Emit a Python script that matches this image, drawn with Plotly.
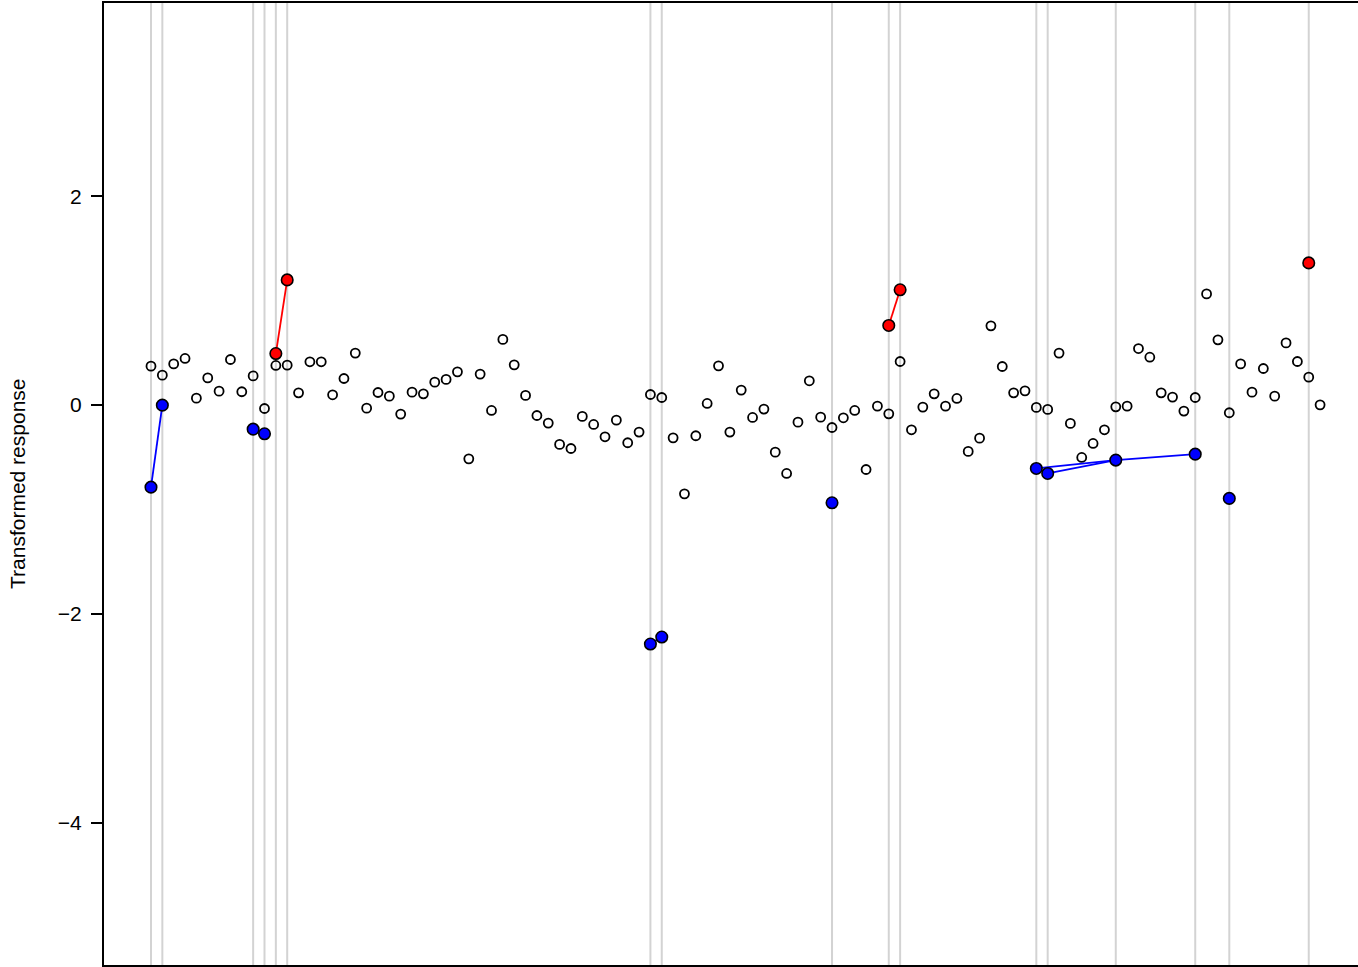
import plotly.graph_objects as go

# ---- data ----
index = list(range(1, 105))
response = [
    0.373, 0.287, 0.395, 0.447, 0.067, 0.261, 0.134, 0.437, 0.128, 0.280,
    -0.032, 0.380, 0.383, 0.118, 0.415, 0.415, 0.099, 0.255, 0.498, -0.029,
    0.121, 0.086, -0.086, 0.124, 0.108, 0.220, 0.246, 0.319, -0.514, 0.297,
    -0.051, 0.629, 0.386, 0.093, -0.099, -0.172, -0.376, -0.415, -0.108, -0.185,
    -0.303, -0.144, -0.360, -0.258, 0.102, 0.073, -0.313, -0.849, -0.293, 0.016,
    0.376, -0.258, 0.144, -0.118, -0.038, -0.450, -0.654, -0.163, 0.233, -0.115,
    -0.214, -0.121, -0.051, -0.616, -0.010, -0.083, 0.418, -0.236, -0.019, 0.108,
    -0.010, 0.064, -0.443, -0.316, 0.759, 0.370, 0.118, 0.137, -0.022, -0.041,
    0.498, -0.175, -0.501, -0.367, -0.236, -0.016, -0.010, 0.542, 0.459, 0.118,
    0.077, -0.057, 0.073, 1.065, 0.625, -0.073, 0.395, 0.124, 0.351, 0.086,
    0.596, 0.418, 0.268, 0.003,
]

blue_idx = [1, 2, 10, 11, 45, 46, 61, 79, 80, 86, 93, 96]
blue_val = [-0.785, 0.0, -0.230, -0.274, -2.287, -2.220, -0.935, -0.606, -0.654, -0.526, -0.469, -0.893]
red_idx = [12, 13, 66, 67, 103]
red_val = [0.494, 1.199, 0.763, 1.104, 1.362]

blue_groups = [[1, 2], [10, 11], [45, 46], [79, 86, 93], [80, 86]]
red_groups = [[12, 13], [66, 67]]

y_ticks = [-4, -2, 0, 2]
y_title = "Transformed response"

# ---- figure ----
flagged = sorted(blue_idx + red_idx)
fig = go.Figure()

shapes = []
for fx in flagged:
    shapes.append(dict(type="line", xref="x", yref="paper", x0=fx, x1=fx, y0=0, y1=1,
                       line=dict(color="#d3d3d3", width=2), layer="below"))


def group_xy(groups, idx, val):
    lut = dict(zip(idx, val))
    xs, ys = [], []
    for g in groups:
        for i in g:
            xs.append(i)
            ys.append(lut[i])
        xs.append(None)
        ys.append(None)
    return xs, ys


bx, by = group_xy(blue_groups, blue_idx, blue_val)
rx, ry = group_xy(red_groups, red_idx, red_val)

fig.add_trace(go.Scatter(x=index, y=response, mode="markers",
                         marker=dict(symbol="circle", size=9, color="rgba(0,0,0,0)",
                                     line=dict(color="black", width=1.8)),
                         showlegend=False, hoverinfo="skip"))
fig.add_trace(go.Scatter(x=bx, y=by, mode="lines", line=dict(color="#0000ff", width=1.8),
                         showlegend=False, hoverinfo="skip"))
fig.add_trace(go.Scatter(x=rx, y=ry, mode="lines", line=dict(color="#ff0000", width=1.8),
                         showlegend=False, hoverinfo="skip"))
fig.add_trace(go.Scatter(x=blue_idx, y=blue_val, mode="markers",
                         marker=dict(symbol="circle", size=11.5, color="#0000ff",
                                     line=dict(color="black", width=1.6)),
                         showlegend=False, hoverinfo="skip"))
fig.add_trace(go.Scatter(x=red_idx, y=red_val, mode="markers",
                         marker=dict(symbol="circle", size=11.5, color="#ff0000",
                                     line=dict(color="black", width=1.6)),
                         showlegend=False, hoverinfo="skip"))

fig.update_layout(
    width=1358, height=967,
    margin=dict(l=104, r=0, t=3, b=2),
    plot_bgcolor="white", paper_bgcolor="white",
    font=dict(family="Liberation Sans, Arial, sans-serif", size=21, color="black"),
    shapes=shapes,
    xaxis=dict(range=[-3.14, 107.34], showgrid=False, zeroline=False,
               showline=True, linecolor="black", linewidth=2, mirror=True,
               ticks="", showticklabels=False, automargin=False),
    yaxis=dict(range=[-5.36, 3.85], showgrid=False, zeroline=False,
               showline=True, linecolor="black", linewidth=2, mirror=False,
               ticks="outside", ticklen=11, tickwidth=1.5, tickcolor="black",
               tickvals=y_ticks, ticktext=[str(v).replace("-", "\u2212") for v in y_ticks],
               ticklabelstandoff=5, automargin=False,
               tickfont=dict(size=21)),
    annotations=[dict(text=y_title, xref="paper", yref="paper", x=-0.0694, y=0.5,
                      xanchor="center", yanchor="middle", textangle=-90,
                      showarrow=False, font=dict(size=21))],
)

fig.write_html("out.html", config={"displayModeBar": False},
               post_script="document.body.style.margin='0';document.body.style.padding='0';")
